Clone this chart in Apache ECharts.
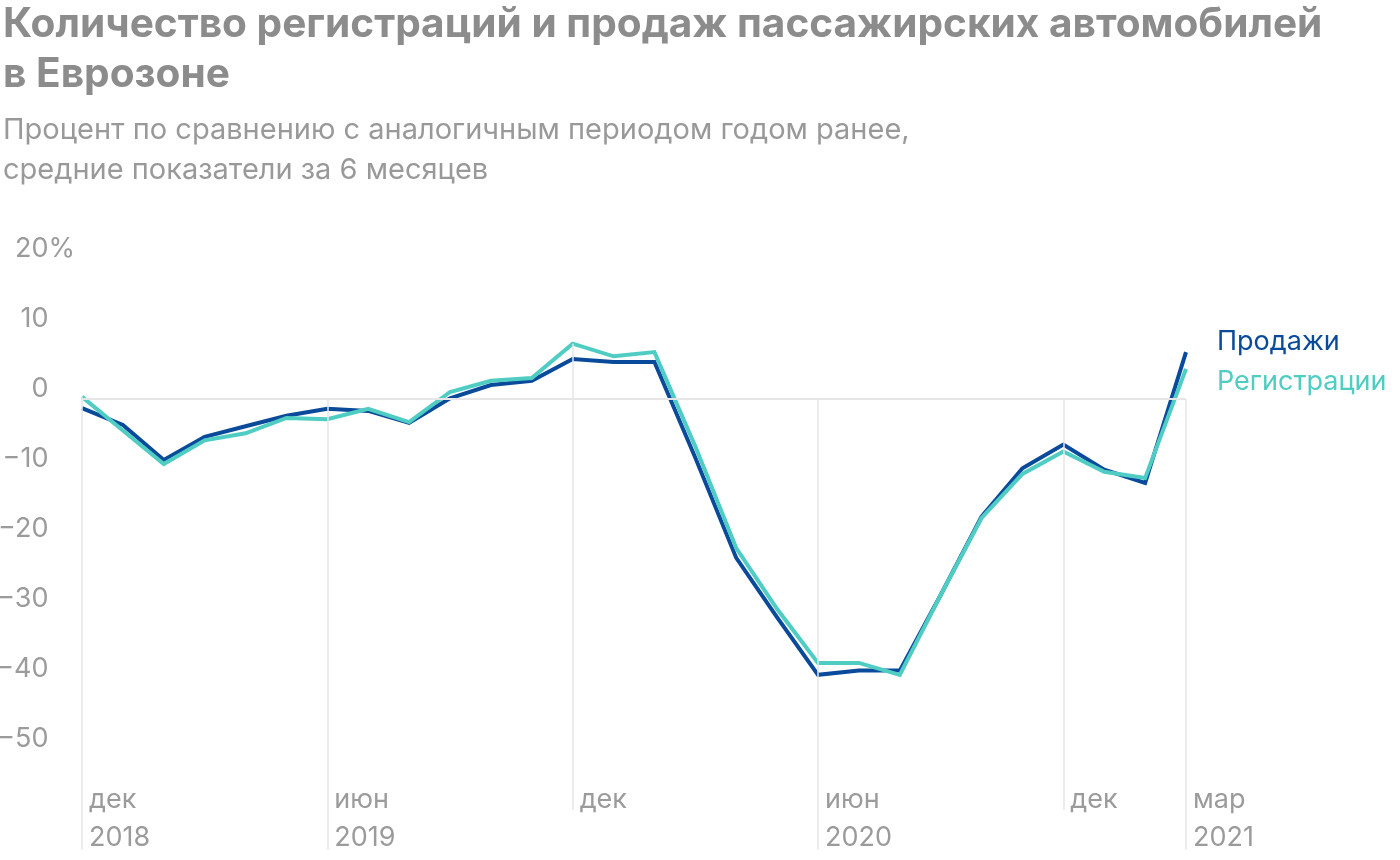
<!DOCTYPE html>
<html>
<head>
<meta charset="utf-8">
<script src="https://cdn.jsdelivr.net/npm/echarts@6/dist/echarts.min.js"></script>
<style>
html,body{margin:0;padding:0;background:#fff;}
#chart{width:1400px;height:860px;}
</style>
</head>
<body>
<div id="chart"></div>
<script>
// Month index: 0 = Dec 2018 ... 27 = Mar 2021
const monthIndex = [0,1,2,3,4,5,6,7,8,9,10,11,12,13,14,15,16,17,18,19,20,21,22,23,24,25,26,27];
const sales = [-1.3,-3.7,-8.7,-5.4,-3.9,-2.4,-1.4,-1.7,-3.4,0.1,2.0,2.6,5.7,5.3,5.3,-8.4,-22.7,-31.2,-39.4,-38.8,-38.8,-28.0,-16.8,-9.9,-6.5,-10.1,-12.0,6.7];
const registrations = [0.3,-4.5,-9.3,-5.9,-4.9,-2.7,-2.9,-1.4,-3.3,1.0,2.6,3.0,7.9,6.1,6.7,-6.8,-21.3,-30.0,-37.7,-37.7,-39.4,-28.0,-17.0,-10.7,-7.5,-10.4,-11.3,4.3];
const tickPositions = [0,6,12,18,24,27];
const tickMonths = ['дек','июн','дек','июн','дек','мар'];
const tickYears = ['2018','2019','','2020','','2021'];
const yTicks = [-50,-40,-30,-20,-10,0,10,20];

const seriesNames = ['Продажи','Регистрации'];
const colSales = '#0a4a9a';
const colRegs = '#4fcdc3';
const gridCol = '#e6e6e6';
const labelCol = '#9b9b9b';
const FONT = 'Inter';

const chart = echarts.init(document.getElementById('chart'), null, {renderer:'canvas'});

// vertical guide lines
const yBottomShort = -58.7, yBottomLong = -64.4;
const vLines = tickPositions.map((x, i) => {
  const last = i === tickPositions.length - 1;
  const top = last ? 0 : Math.max(0, sales[x], registrations[x]);
  const bottom = tickYears[i] ? yBottomLong : yBottomShort;
  return [{coord:[x, top]}, {coord:[x, bottom]}];
});

const option = {
  animation:false,
  backgroundColor:'#fff',
  textStyle:{fontFamily:FONT},
  title:{
    left:3, top:0, padding:0,
    text:'Количество регистраций и продаж пассажирских автомобилей\nв Еврозоне',
    subtext:'Процент по сравнению с аналогичным периодом годом ранее,\nсредние показатели за 6 месяцев',
    itemGap:10,
    textStyle:{fontFamily:FONT,fontSize:40.6,fontWeight:'bold',color:'#8c8c8c',lineHeight:50},
    subtextStyle:{fontFamily:FONT,fontSize:29,color:'#999999',lineHeight:40}
  },
  grid:{left:82, width:1104, top:259, bottom:6, containLabel:false, outerBoundsMode:'none'},
  xAxis:{
    type:'value', min:0, max:27,
    offset:-81,
    axisLine:{show:false}, axisTick:{show:false}, splitLine:{show:false},
    axisLabel:{
      customValues:tickPositions,
      margin:8,
      align:'left',
      verticalAlign:'top',
      padding:[0,0,0,7],
      fontSize:27, lineHeight:38, color:labelCol, fontFamily:FONT,
      formatter:function(v){
        const i = tickPositions.indexOf(v);
        if(i < 0) return '';
        return tickYears[i] ? tickMonths[i] + '\n' + tickYears[i] : tickMonths[i];
      }
    }
  },
  yAxis:{
    type:'value', min:-65, max:20,
    axisLine:{show:false}, axisTick:{show:false}, splitLine:{show:false},
    axisLabel:{
      customValues:yTicks,
      margin:7,
      fontSize:27, lineHeight:20, verticalAlign:'bottom', color:labelCol, fontFamily:FONT,
      rich:{
        p:{fontSize:27, lineHeight:20, color:labelCol, fontFamily:FONT},
        h:{fontSize:27, lineHeight:20, color:'rgba(0,0,0,0)', fontFamily:FONT}
      },
      formatter:function(v){
        const s = v < 0 ? '\u2212' + Math.abs(v) : String(v);
        return v === yTicks[yTicks.length-1] ? s + '{p|%}' : s + '{h|%}';
      }
    }
  },
  series:[
    {
      type:'line', data:[], z:1, silent:true,
      markLine:{
        silent:true, symbol:['none','none'], animation:false,
        label:{show:false},
        lineStyle:{color:gridCol, width:1.5, type:'solid'},
        data:[{yAxis:0, lineStyle:{color:gridCol,width:2,type:'solid'}}].concat(vLines)
      }
    },
    {
      name:seriesNames[0], type:'line', z:3,
      data:monthIndex.map((m,i)=>[m, sales[i]]),
      showSymbol:false, symbol:'none',
      lineStyle:{color:colSales, width:4, join:'miter'},
      itemStyle:{color:colSales},
      endLabel:{show:true, formatter:seriesNames[0], color:colSales, fontSize:27, fontFamily:FONT, distance:5, offset:[26,-10]}
    },
    {
      name:seriesNames[1], type:'line', z:4,
      data:monthIndex.map((m,i)=>[m, registrations[i]]),
      showSymbol:false, symbol:'none',
      lineStyle:{color:colRegs, width:4, join:'miter'},
      itemStyle:{color:colRegs},
      endLabel:{show:true, formatter:seriesNames[1], color:colRegs, fontSize:27, fontFamily:FONT, distance:5, offset:[26,13]}
    }
  ]
};
chart.setOption(option);
</script>
</body>
</html>
